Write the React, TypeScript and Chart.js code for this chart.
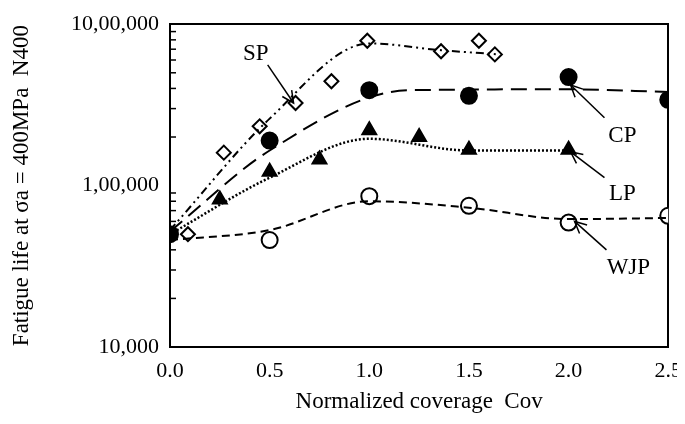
import React, { useEffect, useRef } from "react";
import { Chart, registerables } from "chart.js";
Chart.register(...registerables);

const spX = [0.09, 0.27, 0.45, 0.63, 0.81, 0.99, 1.36, 1.55, 1.63];
const spY = [50000, 160000, 233000, 325000, 443000, 790000, 680000, 790000, 650000];
const spFitX = [0, 0.5, 1.0, 1.36, 1.65];
const spFitY = [53000, 260000, 760000, 690000, 650000];
const cpX = [0, 0.5, 1.0, 1.5, 2.0, 2.5];
const cpY = [50000, 190000, 390000, 360000, 470000, 340000];
const cpFitX = [0, 0.5, 1.2, 2.0, 2.5];
const cpFitY = [52000, 165000, 390000, 395000, 380000];
const lpX = [0.25, 0.5, 0.75, 1.0, 1.25, 1.5, 2.0];
const lpY = [82000, 122000, 145000, 220000, 200000, 167000, 167000];
const lpFitX = [0, 0.5, 1.0, 1.5, 2.0];
const lpFitY = [50000, 112000, 195000, 165000, 165000];
const wjpX = [0.5, 1.0, 1.5, 2.0, 2.5];
const wjpY = [46000, 86000, 75000, 59000, 65000];
const wjpFitX = [0, 0.5, 1.0, 1.5, 2.0, 2.5];
const wjpFitY = [46000, 53000, 80000, 73000, 62000, 63000];
const yTicks = [10000, 100000, 1000000];
const yTickLabels = ["10,000", "1,00,000", "10,00,000"];
const xTicks = [0, 0.5, 1.0, 1.5, 2.0, 2.5];
const labels = [
  { t: "SP", x: 0.43, y: 650000, tx: 0.49, ty: 560000, ax: 0.62, ay: 325000 },
  { t: "CP", x: 2.27, y: 203000, tx: 2.18, ty: 263000, ax: 2.01, ay: 420000 },
  { t: "LP", x: 2.27, y: 89000, tx: 2.18, ty: 112000, ax: 2.01, ay: 162000 },
  { t: "WJP", x: 2.3, y: 31000, tx: 2.19, ty: 40000, ax: 2.03, ay: 60000 },
];

const pts = (xs: number[], ys: number[]) => xs.map((x, i) => ({ x, y: ys[i] }));

export default function App() {
  const ref = useRef<HTMLCanvasElement>(null);
  useEffect(() => {
    const font = "Liberation Serif";
    const fit = (xs: number[], ys: number[], dash: number[], w = 2) => ({
      type: "line" as const, data: pts(xs, ys), borderColor: "#000", borderWidth: w,
      borderDash: dash, pointRadius: 0, showLine: true, cubicInterpolationMode: "monotone" as const, fill: false,
    });
    const sc = (xs: number[], ys: number[], style: string, filled: boolean, r = 7) => ({
      type: "scatter" as const, data: pts(xs, ys), pointStyle: style, pointRadius: r,
      backgroundColor: filled ? "#000" : "#fff", borderColor: "#000", borderWidth: 2, showLine: false,
    });
    const overlay = {
      id: "overlay",
      afterDraw(c: any) {
        const ctx = c.ctx, xs = c.scales.x, ys = c.scales.y;
        ctx.save();
        ctx.strokeStyle = "#000"; ctx.fillStyle = "#000"; ctx.lineWidth = 1.5;
        for (let d = 4; d < 6; d++) for (let m = 2; m <= 9; m++) {
          const py = ys.getPixelForValue(m * Math.pow(10, d));
          ctx.beginPath(); ctx.moveTo(c.chartArea.left, py); ctx.lineTo(c.chartArea.left + 6, py); ctx.stroke();
        }
        ctx.font = `23px "${font}"`; ctx.textAlign = "center"; ctx.textBaseline = "middle";
        for (const l of labels) {
          ctx.fillText(l.t, xs.getPixelForValue(l.x), ys.getPixelForValue(l.y));
          const x1 = xs.getPixelForValue(l.tx), y1 = ys.getPixelForValue(l.ty);
          const x2 = xs.getPixelForValue(l.ax), y2 = ys.getPixelForValue(l.ay);
          ctx.beginPath(); ctx.moveTo(x1, y1); ctx.lineTo(x2, y2); ctx.stroke();
          const a = Math.atan2(y2 - y1, x2 - x1);
          ctx.beginPath();
          ctx.moveTo(x2 - 13 * Math.cos(a - 0.45), y2 - 13 * Math.sin(a - 0.45));
          ctx.lineTo(x2, y2);
          ctx.lineTo(x2 - 13 * Math.cos(a + 0.45), y2 - 13 * Math.sin(a + 0.45));
          ctx.stroke();
        }
        // overline over "Cov" in x title
        ctx.font = `italic 23px "${font}"`;
        ctx.restore();
      },
    };
    const chart = new Chart(ref.current!, {
      data: {
        datasets: [
          fit(spFitX, spFitY, [8, 4, 2, 4, 2, 4]),
          fit(cpFitX, cpFitY, [16, 8]),
          fit(lpFitX, lpFitY, [2, 2], 2.5),
          fit(wjpFitX, wjpFitY, [8, 5]),
          sc(spX, spY, "rectRot", false, 7),
          sc(cpX, cpY, "circle", true, 8),
          sc(lpX, lpY, "triangle", true, 8),
          sc(wjpX, wjpY, "circle", false, 8),
        ] as any,
      },
      options: {
        animation: false, responsive: false,
        layout: { padding: { right: 16, top: 5, left: 0, bottom: 0 } },
        plugins: { legend: { display: false }, tooltip: { enabled: false } },
        scales: {
          x: {
            type: "linear", min: 0, max: 2.5,
            afterBuildTicks: (a: any) => { a.ticks = xTicks.map((v) => ({ value: v })); },
            afterFit: (s: any) => { s.height = 69; },
            grid: { display: false },
            border: { color: "#000", width: 2 },
            ticks: { color: "#000", font: { family: font, size: 22 }, callback: (v: any) => Number(v).toFixed(1) },
            title: { display: true, text: "Normalized coverage  Cov", color: "#000", font: { family: font, size: 23 }, padding: 0 },
          },
          y: {
            type: "logarithmic", min: 10000, max: 1000000,
            afterBuildTicks: (a: any) => { a.ticks = yTicks.map((v) => ({ value: v })); },
            afterFit: (s: any) => { s.width = 162; },
            grid: { display: false },
            border: { color: "#000", width: 2 },
            ticks: { color: "#000", font: { family: font, size: 22 }, callback: (v: any) => yTickLabels[yTicks.indexOf(Number(v))] ?? "" },
            title: { display: true, text: "Fatigue life at σa = 400MPa  N400", color: "#000", font: { family: font, size: 23 }, padding: 0 },
          },
          x2: { type: "linear", position: "top", display: true, min: 0, max: 2.5, afterFit: (s: any) => { s.height = 0; }, grid: { display: false }, ticks: { display: false }, border: { color: "#000", width: 2 } },
          y2: { type: "linear", position: "right", display: true, afterFit: (s: any) => { s.width = 0; }, grid: { display: false }, ticks: { display: false }, border: { color: "#000", width: 2 } },
        },
      } as any,
      plugins: [overlay],
    });
    return () => chart.destroy();
  }, []);
  return <canvas ref={ref} width={677} height={408} style={{ display: "block" }} />;
}
